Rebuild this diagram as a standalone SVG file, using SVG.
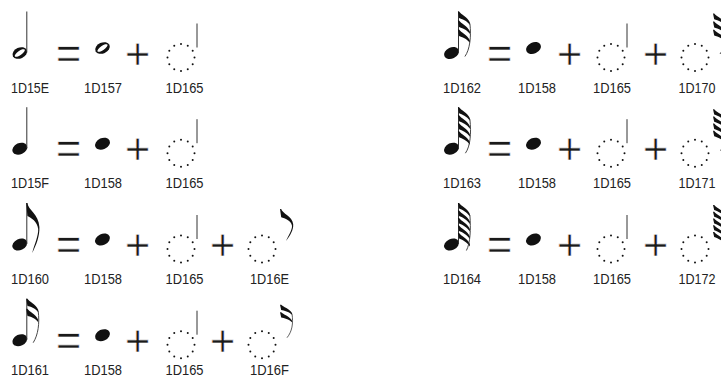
<svg xmlns="http://www.w3.org/2000/svg" xmlns:xlink="http://www.w3.org/1999/xlink" width="721" height="381" viewBox="0 0 721 381">
<style>
.lbl{font-family:"Liberation Sans",Arial,sans-serif;font-size:15.5px;fill:#222}
.lbs{font-family:"Liberation Sans",Arial,sans-serif;font-size:13.5px;fill:#222}
.op{font-family:"Liberation Sans",Arial,sans-serif;font-size:44px;fill:#1a1a1a;stroke:#fff;stroke-width:0.7;text-anchor:middle}
.stem{fill:#333}
.fl{fill:#111}
.tl{fill:none;stroke:#333;stroke-width:0.9}
.dot{fill:#111}
</style>
<defs>
<ellipse id="bh" rx="7.8" ry="5.6" transform="rotate(-25)" fill="#111"/>
<g id="oh"><ellipse rx="7.6" ry="5.4" transform="rotate(-25)" fill="#111"/><ellipse rx="6" ry="2.1" transform="rotate(-35)" fill="#fff"/></g>
<g id="dc" class="dot">
<circle cx="0" cy="-13.5" r="1"/><circle cx="6.75" cy="-11.69" r="1"/><circle cx="11.69" cy="-6.75" r="1"/><circle cx="13.5" cy="0" r="1"/><circle cx="11.69" cy="6.75" r="1"/><circle cx="6.75" cy="11.69" r="1"/><circle cx="0" cy="13.5" r="1"/><circle cx="-6.75" cy="11.69" r="1"/><circle cx="-11.69" cy="6.75" r="1"/><circle cx="-13.5" cy="0" r="1"/><circle cx="-11.69" cy="-6.75" r="1"/><circle cx="-6.75" cy="-11.69" r="1"/>
</g>
<g id="ds"><use xlink:href="#dc"/><line x1="16" y1="-34" x2="16" y2="-10" stroke="#333" stroke-width="1"/></g>
<path id="f1" class="fl" d="M0,0 h1.2 C2,7 12.5,11 13.2,24 C13.6,33 10,42 6,50 C8,42 12.3,33 12,26 C11,18 5,15 1.2,13 Z"/>
<g id="f2"><path class="fl" d="M0,0 h1.2 C3,3 9.5,5 12,11 L12,13.5 C9,9 4,8 1.2,7 Z M0,10 h1.2 C3,13 9.5,15 12,21 L12,23.5 C9,19 4,18 1.2,17 Z"/><path class="tl" d="M12,12 C13.5,25 12,36 7,44"/></g>
<g id="f3"><path class="fl" d="M0,0 h1.2 C3,3 9.5,5 12,11 L12,13.5 C9,9 4,7.5 1.2,6.5 Z M0,9 h1.2 C3,12 9.5,14 12,20 L12,22.5 C9,18 4,16.5 1.2,15.5 Z M0,18 h1.2 C3,21 9.5,23 12,29 L12,31.5 C9,27 4,25.5 1.2,24.5 Z"/><path class="tl" d="M12,12 C13.5,25 12,38 7,45"/></g>
<g id="f4"><path class="fl" d="M0,0 h1.2 C3,3 9.5,5 12,11 L12,13.5 C9,9 4,7 1.2,6 Z M0,8 h1.2 C3,11 9.5,13 12,19 L12,21.5 C9,17 4,15 1.2,14 Z M0,16 h1.2 C3,19 9.5,21 12,27 L12,29.5 C9,25 4,23 1.2,22 Z M0,24 h1.2 C3,27 9.5,29 12,35 L12,37.5 C9,33 4,31 1.2,30 Z"/><path class="tl" d="M12,12 C13.5,26 12.5,39 7.5,46"/></g>
<g id="f5"><path class="fl" d="M0,0 h1.2 C3,3 9.5,5 12,11 L12,13.5 C9,9 4,6.5 1.2,5.5 Z M0,7.5 h1.2 C3,10.5 9.5,12.5 12,18.5 L12,21 C9,16.5 4,14 1.2,13 Z M0,15 h1.2 C3,18 9.5,20 12,26 L12,28.5 C9,24 4,21.5 1.2,20.5 Z M0,22.5 h1.2 C3,25.5 9.5,27.5 12,33.5 L12,36 C9,31.5 4,29 1.2,28 Z M0,30 h1.2 C3,33 9.5,35 12,41 L12,43.5 C9,39 4,36.5 1.2,35.5 Z"/><path class="tl" d="M12,12 C13,26 12.5,40 8.5,47.5"/></g>
</defs>

<g id="eq-1D15E" transform="translate(0,57.5)">
<use xlink:href="#oh" x="19.8" y="-4.5"/><rect class="stem" x="26.3" y="-46" width="1" height="41"/>
<text class="op" x="68.5" y="11">=</text>
<use xlink:href="#oh" x="102.5" y="-9.5"/>
<text class="op" x="137.5" y="11">+</text>
<use xlink:href="#ds" x="181" y="0"/>
<text class="lbl" x="11" y="35" textLength="38" lengthAdjust="spacingAndGlyphs">1D15E</text>
<text class="lbl" x="84" y="35" textLength="38" lengthAdjust="spacingAndGlyphs">1D157</text>
<text class="lbl" x="165.5" y="35" textLength="38" lengthAdjust="spacingAndGlyphs">1D165</text>
</g>

<g id="eq-1D15F" transform="translate(0,153.2)">
<use xlink:href="#bh" x="19.8" y="-4.5"/><rect class="stem" x="26.3" y="-46" width="1" height="41"/>
<text class="op" x="68.5" y="11">=</text>
<use xlink:href="#bh" x="102.5" y="-9.5"/>
<text class="op" x="137.5" y="11">+</text>
<use xlink:href="#ds" x="181" y="0"/>
<text class="lbl" x="11" y="35" textLength="38" lengthAdjust="spacingAndGlyphs">1D15F</text>
<text class="lbl" x="84" y="35" textLength="38" lengthAdjust="spacingAndGlyphs">1D158</text>
<text class="lbl" x="165.5" y="35" textLength="38" lengthAdjust="spacingAndGlyphs">1D165</text>
</g>

<g id="eq-1D160" transform="translate(0,249)">
<use xlink:href="#bh" x="19.8" y="-4.5"/><rect class="stem" x="26.3" y="-46" width="1" height="41"/><use xlink:href="#f1" x="26.2" y="-46"/>
<text class="op" x="68.5" y="11">=</text>
<use xlink:href="#bh" x="102.5" y="-9.5"/>
<text class="op" x="137.5" y="11">+</text>
<use xlink:href="#ds" x="181" y="0"/>
<text class="op" x="222.5" y="11">+</text>
<use xlink:href="#dc" x="262" y="0"/>
<use xlink:href="#f1" transform="translate(280,-40) scale(1,0.64)"/>
<text class="lbl" x="11" y="35" textLength="38" lengthAdjust="spacingAndGlyphs">1D160</text>
<text class="lbl" x="84" y="35" textLength="38" lengthAdjust="spacingAndGlyphs">1D158</text>
<text class="lbl" x="165.5" y="35" textLength="38" lengthAdjust="spacingAndGlyphs">1D165</text>
<text class="lbl" x="250" y="35" textLength="39" lengthAdjust="spacingAndGlyphs">1D16E</text>
</g>

<g id="eq-1D161" transform="translate(0,344.7)">
<use xlink:href="#bh" x="19.8" y="-4.5"/><rect class="stem" x="26.3" y="-46" width="1" height="41"/><use xlink:href="#f2" x="26.2" y="-46"/>
<text class="op" x="68.5" y="11">=</text>
<use xlink:href="#bh" x="102.5" y="-9.5"/>
<text class="op" x="137.5" y="11">+</text>
<use xlink:href="#ds" x="181" y="0"/>
<text class="op" x="222.5" y="11">+</text>
<use xlink:href="#dc" x="262" y="0"/>
<use xlink:href="#f2" transform="translate(280,-40) scale(1,0.75)"/>
<text class="lbl" x="11" y="30.5" textLength="38" lengthAdjust="spacingAndGlyphs">1D161</text>
<text class="lbl" x="84" y="30.5" textLength="38" lengthAdjust="spacingAndGlyphs">1D158</text>
<text class="lbl" x="165.5" y="30.5" textLength="38" lengthAdjust="spacingAndGlyphs">1D165</text>
<text class="lbl" x="250" y="30.5" textLength="39" lengthAdjust="spacingAndGlyphs">1D16F</text>
</g>

<g id="eq-1D162" transform="translate(0,57.5)">
<use xlink:href="#bh" x="451.5" y="-4.5"/><rect class="stem" x="458" y="-46" width="1" height="41"/><use xlink:href="#f3" x="457.9" y="-46"/>
<text class="op" x="499.5" y="11">=</text>
<use xlink:href="#bh" x="533.5" y="-9.5"/>
<text class="op" x="569.5" y="11">+</text>
<use xlink:href="#ds" x="611" y="0"/>
<text class="op" x="655.5" y="11">+</text>
<use xlink:href="#dc" x="695" y="0"/>
<use xlink:href="#f3" transform="translate(713,-44) scale(1,0.9)"/>
<text class="lbl" x="443" y="35" textLength="38" lengthAdjust="spacingAndGlyphs">1D162</text>
<text class="lbl" x="518" y="35" textLength="38" lengthAdjust="spacingAndGlyphs">1D158</text>
<text class="lbl" x="593" y="35" textLength="38" lengthAdjust="spacingAndGlyphs">1D165</text>
<text class="lbs" transform="translate(678.5,35) scale(1,1.15)" textLength="37" lengthAdjust="spacingAndGlyphs">1D170</text>
</g>

<g id="eq-1D163" transform="translate(0,153.2)">
<use xlink:href="#bh" x="451.5" y="-4.5"/><rect class="stem" x="458" y="-46" width="1" height="41"/><use xlink:href="#f4" x="457.9" y="-46"/>
<text class="op" x="499.5" y="11">=</text>
<use xlink:href="#bh" x="533.5" y="-9.5"/>
<text class="op" x="569.5" y="11">+</text>
<use xlink:href="#ds" x="611" y="0"/>
<text class="op" x="655.5" y="11">+</text>
<use xlink:href="#dc" x="695" y="0"/>
<use xlink:href="#f4" transform="translate(713,-44) scale(1,0.9)"/>
<text class="lbl" x="443" y="35" textLength="38" lengthAdjust="spacingAndGlyphs">1D163</text>
<text class="lbl" x="518" y="35" textLength="38" lengthAdjust="spacingAndGlyphs">1D158</text>
<text class="lbl" x="593" y="35" textLength="38" lengthAdjust="spacingAndGlyphs">1D165</text>
<text class="lbs" transform="translate(678.5,35) scale(1,1.15)" textLength="37" lengthAdjust="spacingAndGlyphs">1D171</text>
</g>

<g id="eq-1D164" transform="translate(0,249)">
<use xlink:href="#bh" x="451.5" y="-4.5"/><rect class="stem" x="458" y="-46" width="1" height="41"/><use xlink:href="#f5" x="457.9" y="-46"/>
<text class="op" x="499.5" y="11">=</text>
<use xlink:href="#bh" x="533.5" y="-9.5"/>
<text class="op" x="569.5" y="11">+</text>
<use xlink:href="#ds" x="611" y="0"/>
<text class="op" x="655.5" y="11">+</text>
<use xlink:href="#dc" x="695" y="0"/>
<use xlink:href="#f5" transform="translate(713,-44) scale(1,0.9)"/>
<text class="lbl" x="443" y="35" textLength="38" lengthAdjust="spacingAndGlyphs">1D164</text>
<text class="lbl" x="518" y="35" textLength="38" lengthAdjust="spacingAndGlyphs">1D158</text>
<text class="lbl" x="593" y="35" textLength="38" lengthAdjust="spacingAndGlyphs">1D165</text>
<text class="lbs" transform="translate(678.5,35) scale(1,1.15)" textLength="37" lengthAdjust="spacingAndGlyphs">1D172</text>
</g>
</svg>
